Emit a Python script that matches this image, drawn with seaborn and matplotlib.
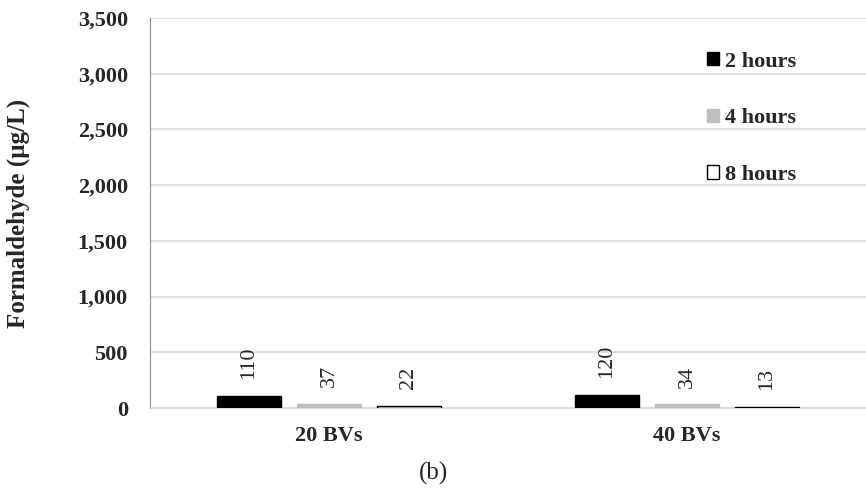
import matplotlib
matplotlib.use("Agg")
import matplotlib.pyplot as plt
import pandas as pd
import seaborn as sns

groups = ["20 BVs", "40 BVs"]
durations = ["2 hours", "4 hours", "8 hours"]
vals_2h = [110, 120]
vals_4h = [37, 34]
vals_8h = [22, 13]

rows = []
for name, vals in zip(durations, [vals_2h, vals_4h, vals_8h]):
    for g, v in zip(groups, vals):
        rows.append({"Group": g, "Duration": name, "Value": v})
df = pd.DataFrame(rows)

sns.set_style("white")
plt.rcParams["font.family"] = ["Liberation Serif", "DejaVu Serif"]

fig = plt.figure(figsize=(8.66, 4.88), dpi=100)
ax = fig.add_axes([150 / 866, 80 / 488, 716 / 866, 390 / 488])

palette = {"2 hours": "#000000", "4 hours": "#bfbfbf", "8 hours": "#ffffff"}
edges = {"2 hours": "#000000", "4 hours": "#bfbfbf", "8 hours": "#000000"}
sns.barplot(data=df, x="Group", y="Value", hue="Duration", palette=palette,
            width=0.67, gap=0.2, linewidth=0, ax=ax, zorder=3)

# outline on the white bars only
for cont, name in zip(ax.containers, durations):
    for bar in cont:
        bar.set_edgecolor(edges[name])
        bar.set_linewidth(1.0)
    ax.bar_label(cont, labels=[str(int(b.get_height())) for b in cont],
                 rotation=90, padding=12, fontsize=16)

ax.set_ylim(0, 3500)
ax.set_yticks(range(0, 3501, 500))
ax.set_yticklabels([f"{v:,}" for v in range(0, 3501, 500)], fontsize=16, fontweight="bold")
ax.set_xlim(-0.5, 1.5)
ax.tick_params(axis="x", labelsize=16, length=0, pad=13)
for t in ax.get_xticklabels():
    t.set_fontweight("bold")
ax.tick_params(axis="y", length=0, pad=16)
ax.yaxis.grid(True, color="#d9d9d9", linewidth=1.2, zorder=0)
ax.set_axisbelow(True)
ax.set_xlabel("")
ax.set_ylabel("Formaldehyde (µg/L)", fontsize=18, fontweight="bold", labelpad=34)
fig.text(0.5, 0.03, "(b)", ha="center", va="center", fontsize=18)

for s in ["top", "right"]:
    ax.spines[s].set_visible(False)
ax.spines["left"].set_color("#8c8c8c")
ax.spines["bottom"].set_color("#d9d9d9")
ax.spines["bottom"].set_linewidth(1.2)

leg = ax.legend(loc="upper right", bbox_to_anchor=(0.93, 0.965), frameon=False,
                prop={"weight": "bold", "size": 16}, handlelength=0.55, handleheight=0.55,
                handletextpad=0.25, labelspacing=1.65)
for h, name in zip(leg.legend_handles, durations):
    h.set_edgecolor(edges[name])
    h.set_linewidth(1.0)

fig.savefig("out.png", dpi=100)
